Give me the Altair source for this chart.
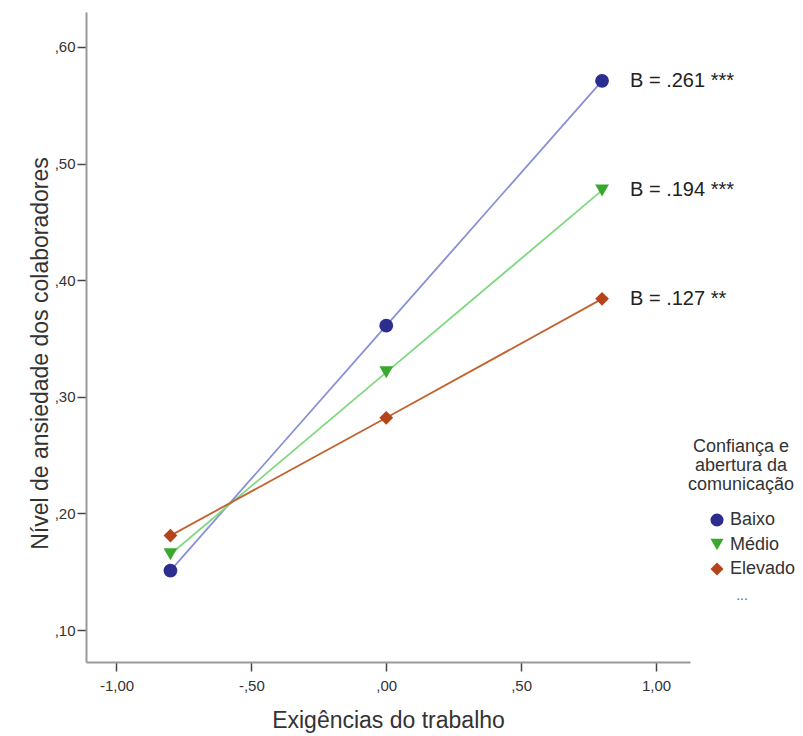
import altair as alt
import pandas as pd

# ---- data ----
x_points = [-0.8, 0.0, 0.8]
groups = ["Baixo", "Médio", "Elevado"]
baixo = [0.151, 0.361, 0.571]
medio = [0.165, 0.321, 0.477]
elevado = [0.181, 0.282, 0.384]
slope_labels = ["B = .261 ***", "B = .194 ***", "B = .127 **"]
x_ticks = [-1.0, -0.5, 0.0, 0.5, 1.0]
y_ticks = [0.1, 0.2, 0.3, 0.4, 0.5, 0.6]
legend_extra = ["..."]

marker_colors = ["#2b2e8f", "#3aa82f", "#b5441b"]
line_colors = ["#8a90d6", "#80d880", "#c2622f"]
shapes = ["circle", "triangle-down", "diamond"]

rows = []
for g, vals in zip(groups, [baixo, medio, elevado]):
    for xv, yv in zip(x_points, vals):
        rows.append({"x": xv, "y": yv, "grupo": g, "linha": g})
df = pd.DataFrame(rows)

lab_df = pd.DataFrame({
    "grupo": groups,
    "x": [x_points[-1]] * 3,
    "y": [baixo[-1], medio[-1], elevado[-1]],
    "label": slope_labels,
})

FONT = "Liberation Sans"
label_expr = ("replace(abs(datum.value) < 1 ? replace(format(datum.value, '.2f'), '0.', ',') "
              ": replace(format(datum.value, '.2f'), '.', ','), '\u2212', '-')")

x_enc = alt.X(
    "x:Q",
    scale=alt.Scale(domain=[-1.113, 1.126], nice=False, zero=False),
    axis=alt.Axis(
        values=x_ticks, title="Exigências do trabalho", labelExpr=label_expr,
        grid=False, titleFontSize=23, titleFontWeight="normal", titleColor="#333",
        titleY=58, titleBaseline="middle", labelPadding=7, labelFlush=False,
    ),
)
y_enc = alt.Y(
    "y:Q",
    scale=alt.Scale(domain=[0.0726, 0.630], nice=False, zero=False),
    axis=alt.Axis(
        values=y_ticks, title="Nível de ansiedade dos colaboradores", labelExpr=label_expr,
        grid=False, titleFontSize=23, titleFontWeight="normal", titleColor="#333",
        titleX=-46, titleY=341, titleAngle=270, titleAlign="center", titleBaseline="middle",
        labelPadding=2, labelFlush=False,
    ),
)

legend = alt.Legend(
    title=["Confiança e", "abertura da", "comunicação"],
    orient="none", legendX=600, legendY=426,
    titleAlign="center", titleAnchor="middle", titleFontSize=18, titleFontWeight="normal",
    titleLineHeight=19, titleColor="#333", titlePadding=17, titleFont=FONT,
    labelFontSize=18, labelColor="#333", labelFont=FONT,
    symbolSize=170, symbolStrokeWidth=0, rowPadding=6.5, symbolOffset=22, padding=0,
)

lines = alt.Chart(df).mark_line(strokeWidth=1.8).encode(
    x=x_enc, y=y_enc,
    stroke=alt.Stroke("linha:N", scale=alt.Scale(domain=groups, range=line_colors), legend=None),
)

points = alt.Chart(df).mark_point(filled=True, size=190, opacity=1, strokeWidth=0).encode(
    x=x_enc, y=y_enc,
    fill=alt.Fill("grupo:N", scale=alt.Scale(domain=groups, range=marker_colors), legend=legend),
    shape=alt.Shape("grupo:N", scale=alt.Scale(domain=groups, range=shapes), legend=legend),
)

labels = alt.Chart(lab_df).mark_text(
    align="left", baseline="middle", dx=28, fontSize=20, font=FONT, color="#222"
).encode(x=x_enc, y=y_enc, text="label:N")

dots = alt.Chart(pd.DataFrame({"t": legend_extra})).mark_text(
    fontSize=14, font=FONT, color="#666"
).encode(x=alt.value(656), y=alt.value(584), text="t:N")

chart = alt.layer(lines, points, labels, dots).resolve_scale(
    stroke="independent"
).properties(
    width=604, height=650,
    padding={"left": 86, "top": 12, "right": 113, "bottom": 74},
    autosize=alt.AutoSizeParams(type="none"),
    background="white",
).configure_view(stroke=None).configure_axis(
    labelFont=FONT, titleFont=FONT, labelFontSize=15, labelColor="#333",
    domainColor="#999", domainWidth=2, tickColor="#444", tickWidth=1.5, tickSize=9,
)

chart.save("out.html", embed_options={"renderer": "svg", "actions": False})
